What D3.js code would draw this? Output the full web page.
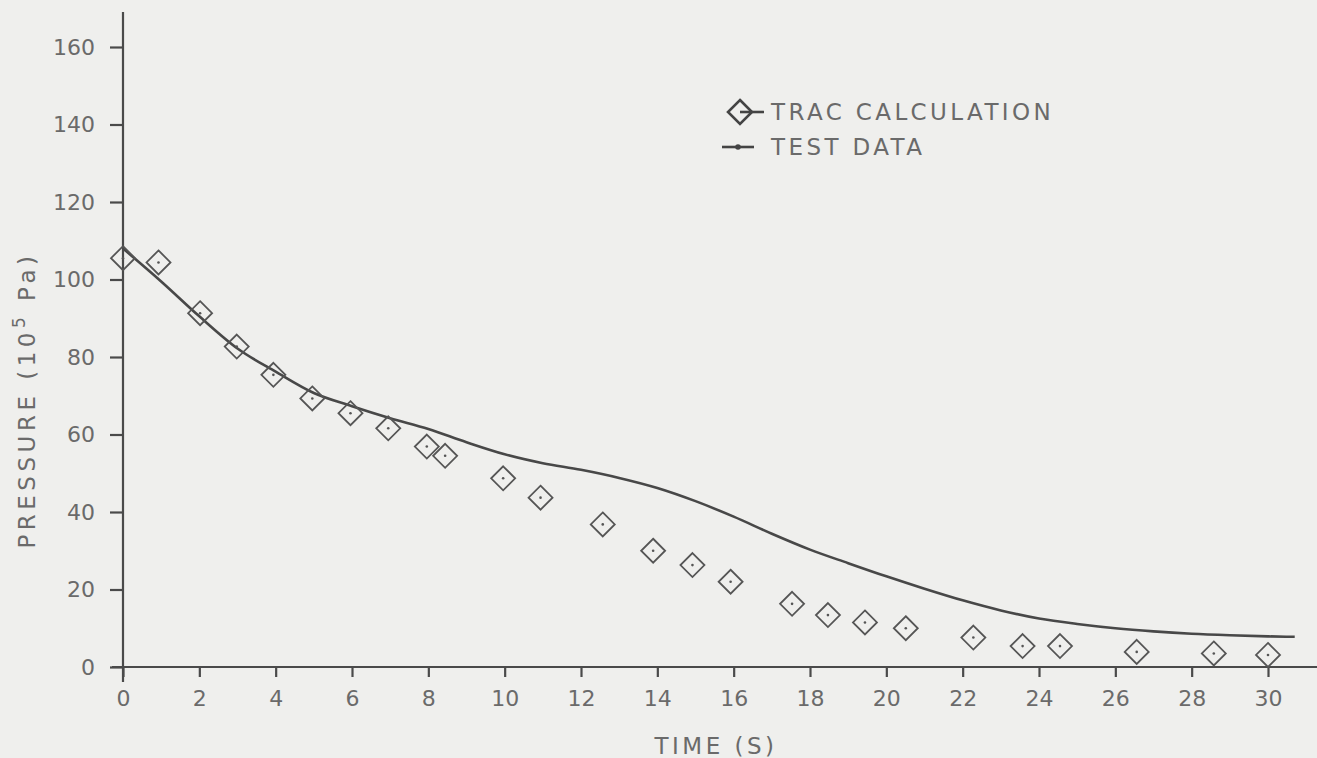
<!DOCTYPE html>
<html>
<head>
<meta charset="utf-8">
<script src="https://cdn.jsdelivr.net/npm/d3@7"></script>
<style>
  html, body { margin: 0; padding: 0; background: #efefed; }
  svg { display: block; }
  text { font-family: "DejaVu Sans", sans-serif; fill: #6a6a6a; }
</style>
</head>
<body>
<script>
// ---- data ----
const tracTime = [0, 0.93, 2.02, 2.98, 3.94, 4.96, 5.96, 6.95, 7.96, 8.44, 9.96, 10.94, 12.57, 13.89, 14.92, 15.92, 17.53, 18.47, 19.44, 20.51, 22.28, 23.57, 24.55, 26.56, 28.58, 30.0];
const tracPressure = [105.5, 104.4, 91.3, 82.7, 75.4, 69.3, 65.5, 61.6, 56.9, 54.5, 48.7, 43.7, 36.8, 30.0, 26.3, 22.0, 16.3, 13.4, 11.5, 10.0, 7.6, 5.4, 5.4, 3.9, 3.5, 3.1];

const testTime = [0, 1, 2, 3, 4, 5, 6, 7, 8, 9, 10, 11, 12, 13, 14, 15, 16, 17, 18, 19, 20, 21, 22, 23, 24, 25, 26, 27, 28, 29, 30, 30.7];
const testPressure = [108, 99.5, 90.5, 82.2, 76.2, 70.7, 67.3, 64.2, 61.4, 58, 54.9, 52.6, 50.9, 48.8, 46.2, 42.8, 38.8, 34.4, 30.3, 26.8, 23.4, 20.2, 17.2, 14.6, 12.5, 11.1, 10.0, 9.2, 8.6, 8.2, 7.9, 7.8];

const xTicks = [0, 2, 4, 6, 8, 10, 12, 14, 16, 18, 20, 22, 24, 26, 28, 30];
const yTicks = [0, 20, 40, 60, 80, 100, 120, 140, 160];
const legendLabels = ["TRAC CALCULATION", "TEST DATA"];
const xTitle = "TIME (S)";

// ---- layout ----
const W = 1317, H = 758;
const svg = d3.select("body").append("svg").attr("width", W).attr("height", H);
svg.append("rect").attr("width", W).attr("height", H).attr("fill", "#efefed");

const x = d3.scaleLinear().domain([0, 30]).range([123, 1268]);
const y = d3.scaleLinear().domain([0, 160]).range([667, 47]);

const ink = "#4a4a4a";

// y axis
const yAxis = d3.axisLeft(y).tickValues(yTicks).tickSize(13).tickPadding(15).tickFormat(d3.format("d"));
const gy = svg.append("g").attr("transform", `translate(${x(0)},0)`).call(yAxis);
gy.select(".domain").remove();
gy.selectAll(".tick line").attr("stroke", ink).attr("stroke-width", 2.2);
gy.selectAll(".tick text").attr("font-size", 22).attr("fill", "#6a6a6a").attr("font-family", "DejaVu Sans");
svg.append("line").attr("x1", x(0)).attr("x2", x(0)).attr("y1", 12).attr("y2", 682)
  .attr("stroke", ink).attr("stroke-width", 2.2);

// x axis
const xAxis = d3.axisBottom(x).tickValues(xTicks).tickSize(10).tickPadding(13).tickFormat(d3.format("d"));
const gx = svg.append("g").attr("transform", `translate(0,${y(0)})`).call(xAxis);
gx.select(".domain").remove();
gx.selectAll(".tick line").attr("stroke", ink).attr("stroke-width", 2.2);
gx.selectAll(".tick text").attr("font-size", 22).attr("fill", "#6a6a6a").attr("font-family", "DejaVu Sans");
svg.append("line").attr("x1", 112).attr("x2", W).attr("y1", y(0)).attr("y2", y(0))
  .attr("stroke", ink).attr("stroke-width", 2.2);

// axis titles
svg.append("text").attr("x", 716).attr("y", 754).attr("text-anchor", "middle")
  .attr("font-size", 23).attr("letter-spacing", 3.5).text(xTitle);

const yt = svg.append("text").attr("transform", "translate(35,400) rotate(-90)")
  .attr("text-anchor", "middle").attr("font-size", 23).attr("letter-spacing", 4.5);
yt.append("tspan").text("PRESSURE  (10");
yt.append("tspan").attr("baseline-shift", "super").attr("font-size", 17).text("5");
yt.append("tspan").text(" Pa)");

// test data line
const line = d3.line().x((d, i) => x(testTime[i])).y(d => y(d)).curve(d3.curveMonotoneX);
svg.append("path").datum(testPressure).attr("d", line)
  .attr("fill", "none").attr("stroke", "#484848").attr("stroke-width", 2.6);

// TRAC diamonds
const r = 12;
const diamond = `M0,${-r}L${r},0L0,${r}L${-r},0Z`;
const gd = svg.append("g").selectAll("g").data(tracPressure).join("g")
  .attr("transform", (d, i) => `translate(${x(tracTime[i])},${y(d)})`);
gd.append("path").attr("d", diamond).attr("fill", "none").attr("stroke", "#555").attr("stroke-width", 1.8);
gd.append("circle").attr("r", 1.3).attr("fill", "#555");

// legend
const lg = svg.append("g");
lg.append("path").attr("d", diamond).attr("transform", "translate(740,112)")
  .attr("fill", "none").attr("stroke", "#444").attr("stroke-width", 2.6);
lg.append("line").attr("x1", 740).attr("x2", 764).attr("y1", 112).attr("y2", 112)
  .attr("stroke", "#444").attr("stroke-width", 2.6);
lg.append("text").attr("x", 771).attr("y", 112).attr("dy", "0.36em")
  .attr("font-size", 23).attr("letter-spacing", 3.4).attr("fill", "#555").text(legendLabels[0]);
lg.append("line").attr("x1", 722).attr("x2", 754).attr("y1", 147).attr("y2", 147)
  .attr("stroke", "#444").attr("stroke-width", 2.6);
lg.append("circle").attr("cx", 738).attr("cy", 147).attr("r", 2.8).attr("fill", "#444");
lg.append("text").attr("x", 771).attr("y", 147).attr("dy", "0.36em")
  .attr("font-size", 23).attr("letter-spacing", 3.4).attr("fill", "#555").text(legendLabels[1]);
</script>
</body>
</html>
